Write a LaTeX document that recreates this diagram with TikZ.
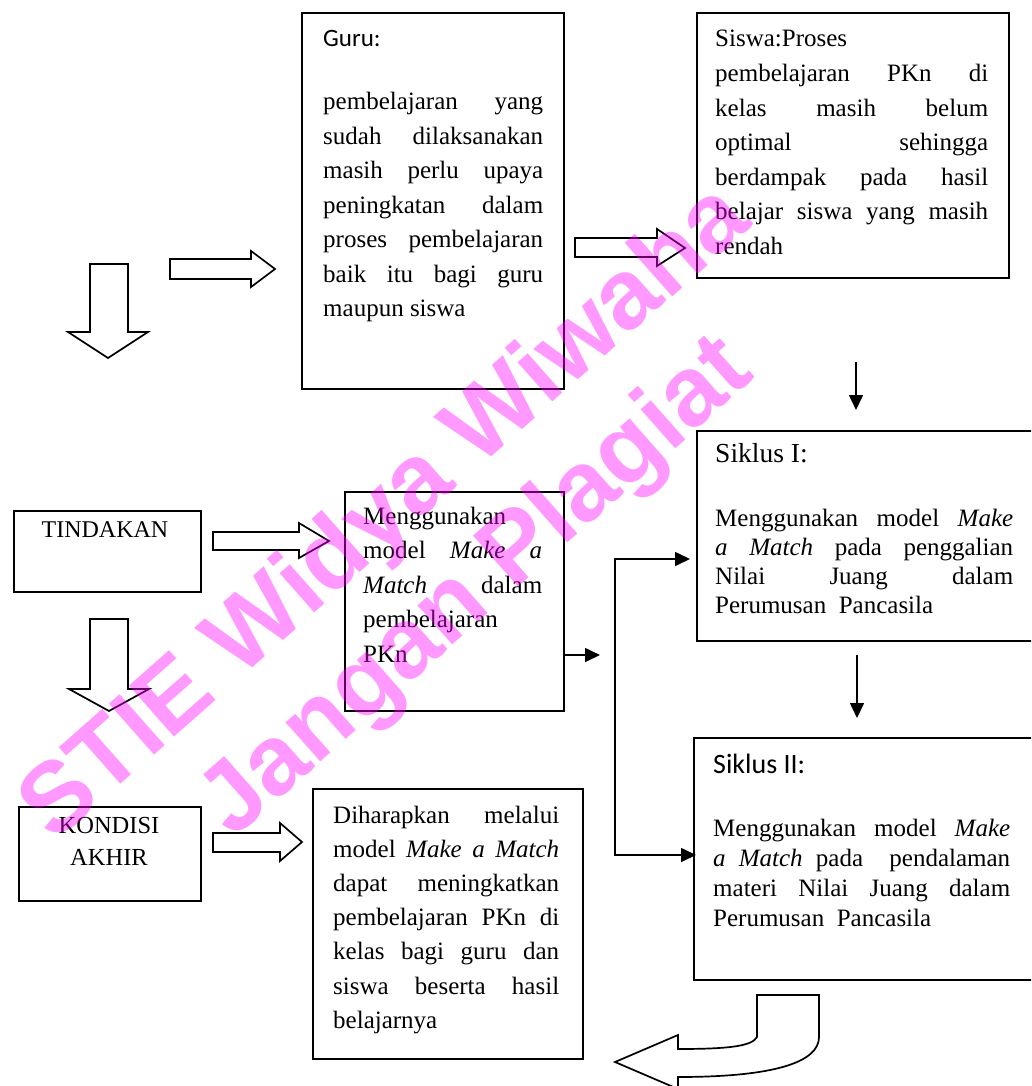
\documentclass[tikz,border=0pt]{standalone}
\usepackage{fontspec}
\setmainfont{Liberation Serif}
\newfontfamily\calfont{Carlito}
\newfontfamily\wmfont{Liberation Sans}
\usetikzlibrary{arrows.meta}
\definecolor{wmpink}{RGB}{255,0,255}
\newcommand{\JL}[2]{\makebox[#1][s]{#2}}
\begin{document}
\begin{tikzpicture}[x=1pt,y=-1pt,
  box/.style={draw,line width=1.8pt,inner sep=0pt,anchor=north west},
  blk/.style={draw,line width=1.7pt,fill=white,line join=miter},
  thin/.style={line width=1.6pt,-{Triangle[length=15pt,width=14pt]}},
  txt/.style={inner sep=0pt,anchor=base west},
  wm/.style={text=wmpink,text opacity=0.4,font=\wmfont\bfseries\fontsize{99}{110}\selectfont,rotate=41.5,inner sep=0pt,anchor=base}
]
\useasboundingbox (0,0) rectangle (1031,1086);
\clip (0,0) rectangle (1031,1086);

% boxes
\node[box,minimum width=262pt,minimum height=376pt] (guru) at (301,12) {};
\node[box,minimum width=312pt,minimum height=265pt] (siswa) at (696,12) {};
\node[box,minimum width=350pt,minimum height=210pt] (s1) at (696,430) {};
\node[box,minimum width=350pt,minimum height=242pt] (s2) at (693,737) {};
\node[box,minimum width=187pt,minimum height=81pt] (tind) at (13,510) {};
\node[box,minimum width=219pt,minimum height=219pt] (mgk) at (344,491) {};
\node[box,minimum width=182pt,minimum height=94pt] (kond) at (18,806) {};
\node[box,minimum width=270pt,minimum height=270pt] (harap) at (312,788) {};

% texts
\node[txt] (gurut) at (323,47) {\calfont\fontsize{25}{30}\selectfont Guru:};
\node[txt] (gurub) at (323,110) {\parbox[t]{220pt}{\fontsize{25}{34.5}\selectfont
\JL{220pt}{pembelajaran yang}\\
\JL{220pt}{sudah dilaksanakan}\\
\JL{220pt}{masih perlu upaya}\\
\JL{220pt}{peningkatan dalam}\\
\JL{220pt}{proses pembelajaran}\\
\JL{220pt}{baik itu bagi guru}\\
maupun siswa}};

\node[txt] (siswab) at (715,47) {\parbox[t]{273pt}{\fontsize{25}{34.6}\selectfont
Siswa:Proses\\
\JL{273pt}{pembelajaran PKn di}\\
\JL{273pt}{kelas masih belum}\\
\JL{273pt}{optimal sehingga}\\
\JL{273pt}{berdampak pada hasil}\\
\JL{273pt}{belajar siswa yang masih}\\
rendah}};

\node[txt] (s1t) at (715,462) {\fontsize{27.5}{30}\selectfont Siklus I:};
\node[txt] (s1b) at (715,526) {\parbox[t]{298pt}{\fontsize{25}{29}\selectfont
\JL{298pt}{Menggunakan model \textit{Make}}\\
\JL{298pt}{\textit{a Match} pada penggalian}\\
\JL{298pt}{Nilai Juang dalam}\\
Perumusan\ \ Pancasila}};

\node[txt] (s2t) at (713,773) {\calfont\fontsize{28}{30}\selectfont Siklus II:};
\node[txt] (s2b) at (713,836) {\parbox[t]{297pt}{\fontsize{25}{30}\selectfont
\JL{297pt}{Menggunakan model \textit{Make}}\\
\JL{297pt}{\textit{a Match} pada\ \ pendalaman}\\
\JL{297pt}{materi Nilai Juang dalam}\\
Perumusan\ \ Pancasila}};

\node[inner sep=0pt,anchor=base] (tindt) at (105,537) {\fontsize{24}{28}\selectfont TINDAKAN};
\node[inner sep=0pt,anchor=base] (kondt) at (109,833) {\parbox[t]{160pt}{\centering\fontsize{24.5}{32}\selectfont KONDISI\\AKHIR}};

\node[txt] (mgkb) at (363,524) {\parbox[t]{179pt}{\fontsize{25}{34.5}\selectfont
Menggunakan\\
\JL{179pt}{model \textit{Make} \textit{a}}\\
\JL{179pt}{\textit{Match} dalam}\\
pembelajaran\\
PKn}};

\node[txt] (harapb) at (333,823) {\parbox[t]{226pt}{\fontsize{25}{34.2}\selectfont
\JL{226pt}{Diharapkan melalui}\\
\JL{226pt}{model \textit{Make a Match}}\\
\JL{226pt}{dapat meningkatkan}\\
\JL{226pt}{pembelajaran PKn di}\\
\JL{226pt}{kelas bagi guru dan}\\
\JL{226pt}{siswa beserta hasil}\\
belajarnya}};

% block arrows
\draw[blk] (170,259) -- (251,259) -- (251,251) -- (275,269) -- (251,287) -- (251,279) -- (170,279) -- cycle;
\draw[blk] (90,264) -- (128,264) -- (128,332) -- (148,332) -- (108,358) -- (68,332) -- (90,332) -- cycle;
\draw[blk] (575,238) -- (657,238) -- (657,229) -- (685,248) -- (657,266) -- (657,257) -- (575,257) -- cycle;
\draw[blk] (213,532) -- (299,532) -- (299,523) -- (329,541) -- (299,558) -- (299,550) -- (213,550) -- cycle;
\draw[blk] (90,619) -- (128,619) -- (128,689) -- (149,689) -- (109,711) -- (69,689) -- (90,689) -- cycle;
\draw[blk] (213,833) -- (280,833) -- (280,823) -- (302,842) -- (280,861) -- (280,852) -- (213,852) -- cycle;
\draw[blk] (757,995) -- (819,995) -- (819,1037) .. controls (819,1062) and (775,1077) .. (678,1077) -- (678,1089) -- (615,1062) -- (678,1035) -- (678,1049) .. controls (730,1049) and (752,1046) .. (757,1037) -- cycle;

% thin connectors
\coordinate (t1s) at (856,362);
\coordinate (t1e) at (856,410);
\draw[thin] (t1s) -- (t1e);
\coordinate (t2s) at (857,655);
\coordinate (t2e) at (857,718);
\draw[thin] (t2s) -- (t2e);
\coordinate (m1s) at (mgk.east |- 0,655);
\coordinate (m1e) at (600,655);
\draw[thin] (m1s) -- (m1e);
\coordinate (bt) at (615,559);
\coordinate (bb) at (615,855);
\coordinate (s1in) at ([xshift=-6pt]s1.west |- bt);
\coordinate (s2in) at ([xshift=3pt]s2.west |- bb);
\draw[line width=1.6pt,line join=miter,{Triangle[length=15pt,width=14pt]}-{Triangle[length=15pt,width=14pt]}] (s1in) -- (bt) -- (bb) -- (s2in);

% watermark
\node[wm] (wm1) at (404,534) {STIE Widya Wiwaha};
\node[wm] (wm2) at (495,608) {Jangan Plagiat};
\end{tikzpicture}
\end{document}
